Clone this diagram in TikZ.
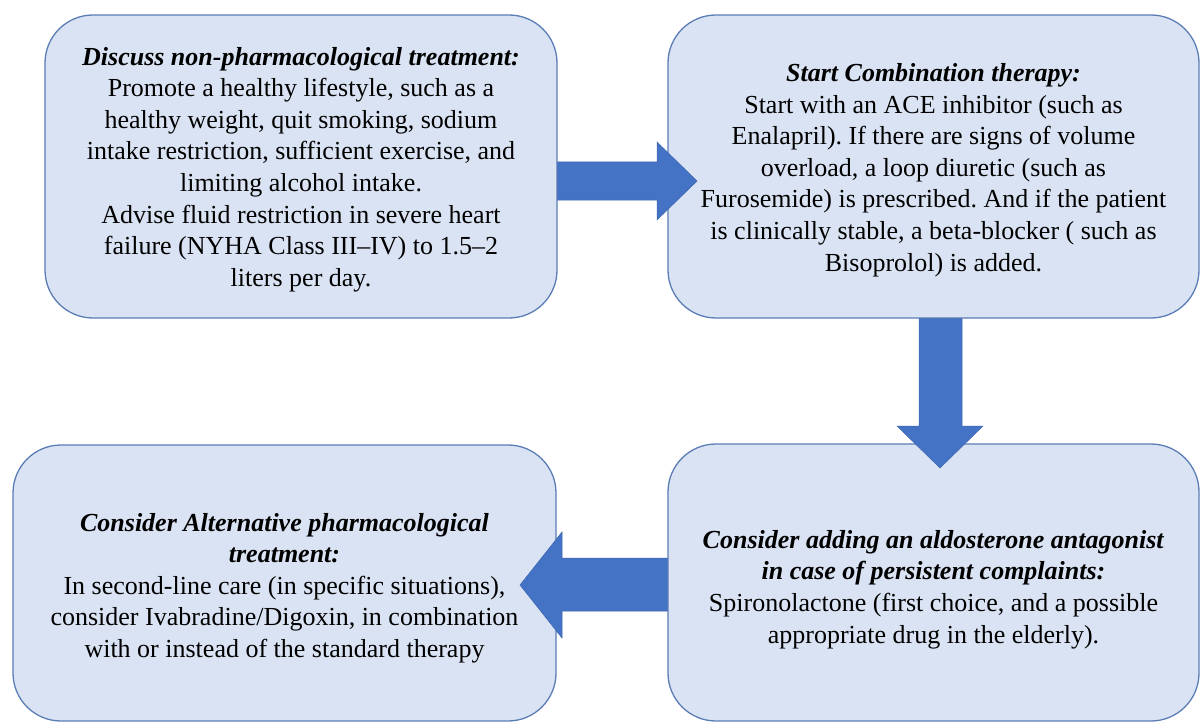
\documentclass[tikz,border=0pt]{standalone}
\usepackage{fontspec}
\setmainfont{Liberation Serif}
\frenchspacing
\definecolor{boxfill}{HTML}{DAE3F3}
\definecolor{boxline}{HTML}{5B7DB5}
\definecolor{arrowfill}{HTML}{4472C4}
\definecolor{arrowline}{HTML}{3D66B0}
\begin{document}
\begin{tikzpicture}[x=1pt,y=-1pt,
  stepbox/.style={draw=boxline, fill=boxfill, line width=1.3pt, rounded corners=48pt,
    inner sep=0pt},
  steptext/.style={align=center, inner sep=0pt, font=\fontsize{26}{31.6}\selectfont\frenchspacing},
  blockarrow/.style={fill=arrowfill, draw=arrowline, line width=0.5pt}]
\useasboundingbox (0,0) rectangle (1201,722);
\fill[white] (0,0) rectangle (1201,722);
\node[stepbox, minimum width=512pt, minimum height=303pt] (b1) at (301,166.5) {};
\node[stepbox, minimum width=531pt, minimum height=303pt] (b2) at (933.5,166.5) {};
\node[stepbox, minimum width=543pt, minimum height=276pt] (b3) at (284.5,583) {};
\node[stepbox, minimum width=531pt, minimum height=277pt] (b4) at (933.5,582.5) {};
\node[steptext] (t1) at ([yshift=-3pt]b1.center)
  {\textbf{\textit{Discuss non-pharmacological treatment:}}\\
   Promote a healthy lifestyle, such as a\\
   healthy weight, quit smoking, sodium\\
   intake restriction, sufficient exercise, and\\
   limiting alcohol intake.\\
   Advise fluid restriction in severe heart\\
   failure (NYHA Class III–IV) to 1.5–2\\
   liters per day.};
\node[steptext] (t2) at ([yshift=-3.5pt]b2.center)
  {\textbf{\textit{Start Combination therapy:}}\\
   Start with an ACE inhibitor (such as\\
   Enalapril). If there are signs of volume\\
   overload, a loop diuretic (such as\\
   Furosemide) is prescribed. And if the patient\\
   is clinically stable, a beta-blocker ( such as\\
   Bisoprolol) is added.};
\node[steptext] (t3) at ([yshift=-5pt]b3.center)
  {\textbf{\textit{Consider Alternative pharmacological}}\\
   \textbf{\textit{treatment:}}\\
   In second-line care (in specific situations),\\
   consider Ivabradine/Digoxin, in combination\\
   with or instead of the standard therapy};
\node[steptext] (t4) at ([yshift=-7pt]b4.center)
  {\textbf{\textit{Consider adding an aldosterone antagonist}}\\
   \textbf{\textit{in case of persistent complaints:}}\\
   Spironolactone (first choice, and a possible\\
   appropriate drug in the elderly).};
% block arrows between the boxes
\draw[blockarrow] (b1.east |- 0,162) -- (657,162) -- (657,142) -- (697,181)
  -- (657,220) -- (657,200) -- (b1.east |- 0,200) -- cycle;
\draw[blockarrow] (919,0 |- b2.south) -- (962,0 |- b2.south) -- (962,426) -- (983,426)
  -- (940,468) -- (897,426) -- (919,426) -- cycle;
\draw[blockarrow] (b4.west |- 0,558) -- (562,558) -- (562,532) -- (520,585)
  -- (562,638) -- (562,611) -- (b4.west |- 0,611) -- cycle;
\end{tikzpicture}
\end{document}
